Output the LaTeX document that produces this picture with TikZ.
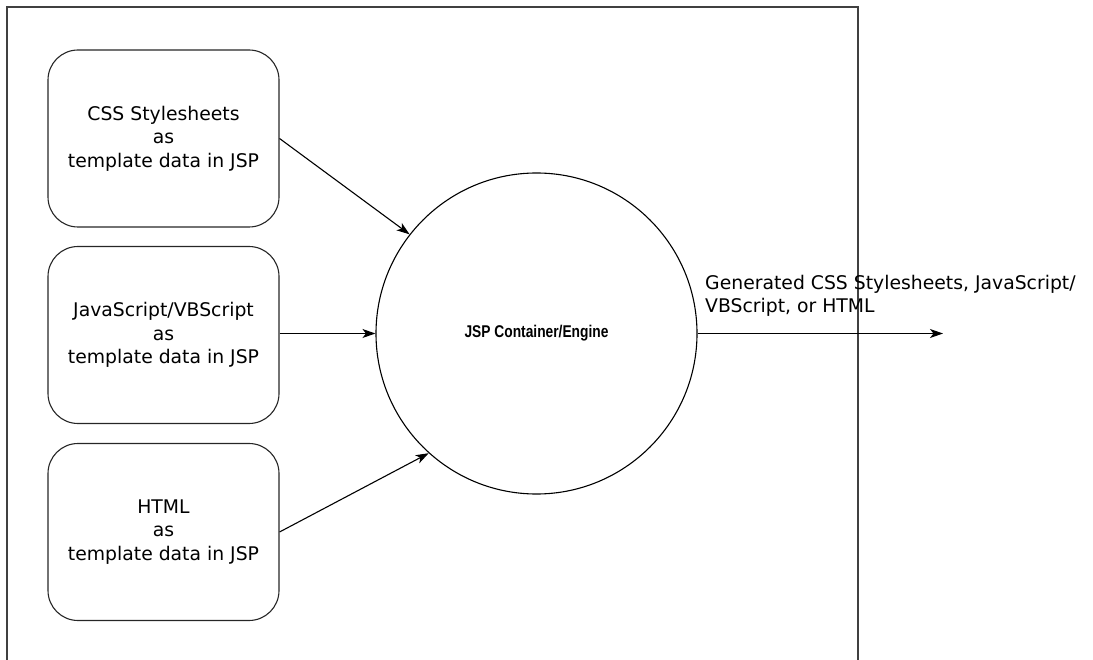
\documentclass[tikz,border=0pt]{standalone}
\usepackage{fontspec}
\setmainfont{DejaVu Sans}
\newfontfamily\labelbold{Liberation Sans}[FakeStretch=0.81]
\usetikzlibrary{arrows.meta}
\tikzset{
  srcbox/.style={draw=black!85, line width=1.1pt, rounded corners=30pt, minimum width=231pt, minimum height=177pt, align=center, inner sep=0pt, font=\fontsize{18.8}{23.5}\selectfont},
  engine/.style={draw=black, line width=1.1pt, circle, minimum size=321pt, inner sep=0pt, font=\labelbold\bfseries\fontsize{17}{20}\selectfont},
  flow/.style={draw=black, line width=1.1pt, -{Stealth[length=13pt,width=9pt,inset=3.5pt]}},
  frame/.style={draw=black!75, line width=1.6pt},
  outlabel/.style={align=left, inner sep=0pt, anchor=north west, font=\fontsize{18.8}{23}\selectfont}
}
\begin{document}
\begin{tikzpicture}[x=1pt,y=-1pt]
\useasboundingbox (0,0) rectangle (1093,660);
\draw[frame] (7,672) -- (7,7) -- (858,7) -- (858,672);
\node[srcbox] (css) at (163.5,138.5) {CSS Stylesheets\\as\\template data in JSP};
\node[srcbox] (js) at (163.5,335) {JavaScript/VBScript\\as\\template data in JSP};
\node[srcbox] (html) at (163.5,532) {HTML\\as\\template data in JSP};
\node[engine] (eng) at (536.5,333.5) {JSP Container/Engine};
\coordinate (out) at (943,333.5);
\draw[flow] (css.east) -- (eng.142);
\draw[flow] (js.east |- eng.west) -- (eng.west);
\draw[flow] (html.east) -- (eng.228);
\draw[flow] (eng.east) -- (out);
\node[outlabel] (outtext) at (705,275) {Generated CSS Stylesheets, JavaScript/\\VBScript, or HTML};
\end{tikzpicture}
\end{document}
